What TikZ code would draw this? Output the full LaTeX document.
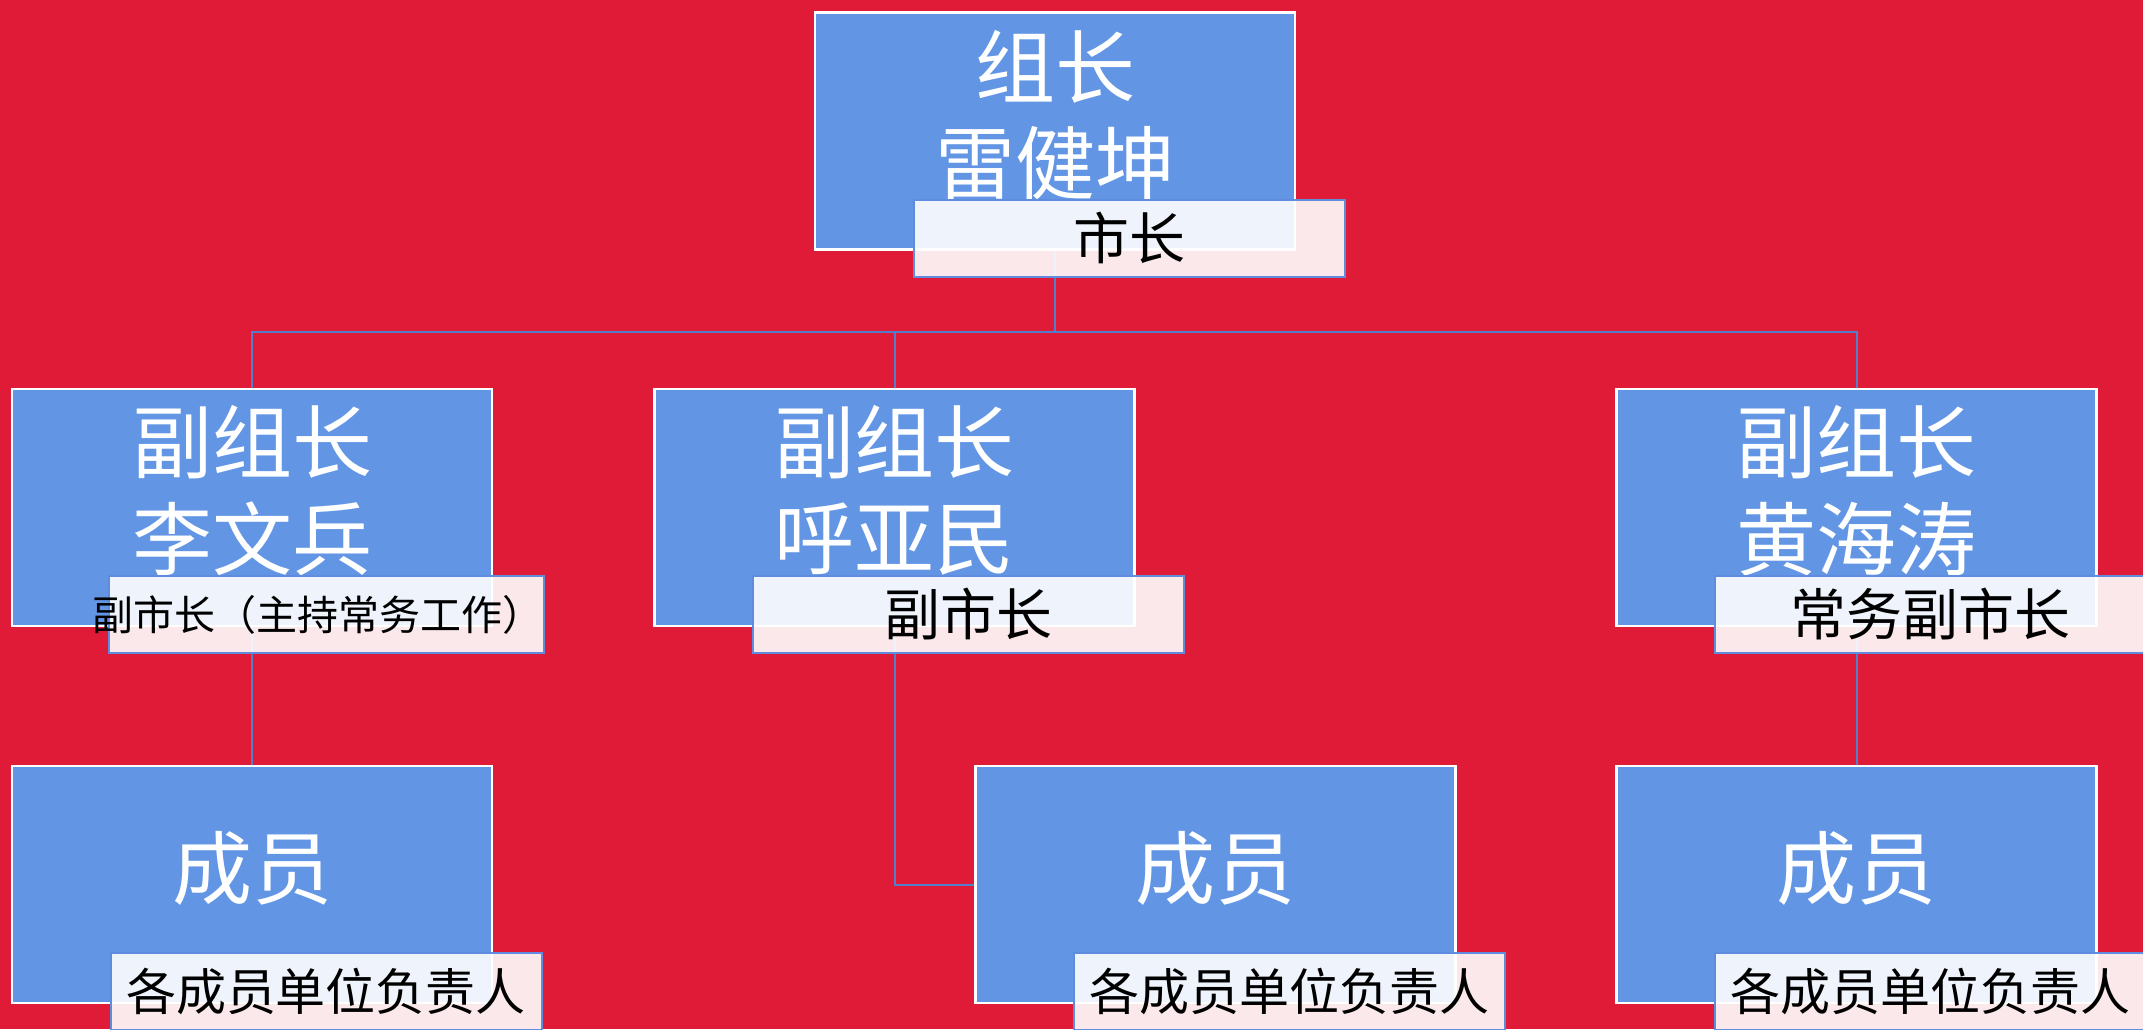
\documentclass[tikz,border=0pt]{standalone}
\usepackage{fontspec}
\setmainfont{Noto Sans CJK SC}
\definecolor{bgred}{RGB}{223,27,55}
\definecolor{boxblue}{RGB}{98,150,229}
\definecolor{lblblue}{RGB}{95,140,222}
\definecolor{connblue}{RGB}{85,125,205}
\pgfdeclarelayer{bg}
\pgfsetlayers{bg,main}
\begin{document}
\begin{tikzpicture}[x=0.5pt,y=-0.5pt,
  orgbox/.style={draw=white,line width=1.3pt,fill=boxblue,minimum width=240pt,minimum height=118.5pt,inner sep=0pt,outer sep=0pt},
  bigtext/.style={text=white,font=\fontsize{40pt}{48pt}\selectfont,inner sep=0pt},
  tag/.style={draw=lblblue,line width=1pt,fill=white,fill opacity=0.9,text opacity=1,text=black,minimum width=215.5pt,minimum height=38.5pt,inner sep=0pt,outer sep=0pt,font=\fontsize{28pt}{32pt}\selectfont},
  smalltag/.style={tag,font=\fontsize{25pt}{30pt}\selectfont},
  conn/.style={draw=connblue,line width=1pt}]
\useasboundingbox (0,0) rectangle (2143,1029);
\begin{pgfonlayer}{bg}
\fill[bgred] (0,0) rectangle (2143,1029);
\end{pgfonlayer}

% boxes
\node[orgbox] (top) at (1055,131) {};
\node[orgbox] (L) at (252,507.5) {};
\node[orgbox] (C) at (894.5,507.5) {};
\node[orgbox] (R) at (1856.5,507.5) {};
\node[orgbox] (BL) at (252,884.5) {};
\node[orgbox] (BC) at (1215.5,884.5) {};
\node[orgbox] (BR) at (1856.5,884.5) {};

% box texts
\node[bigtext] (t1a) at (1055,66.5) {组长};
\node[bigtext] (t1b) at (1055,163) {雷健坤};
\node[bigtext] (tLa) at (252,442.5) {副组长};
\node[bigtext] (tLb) at (252,539) {李文兵};
\node[bigtext] (tCa) at (894.5,442.5) {副组长};
\node[bigtext] (tCb) at (894.5,539) {呼亚民};
\node[bigtext] (tRa) at (1856.5,442.5) {副组长};
\node[bigtext] (tRb) at (1856.5,539) {黄海涛};
\node[bigtext] (tBL) at (252,868) {成员};
\node[bigtext] (tBC) at (1215.5,868) {成员};
\node[bigtext] (tBR) at (1856.5,868) {成员};

% labels
\node[tag] (topT) at (1129,238) {市长};
\node[tag,font=\fontsize{20.5pt}{24pt}\selectfont] (LT) at (326,614.5) {\kern-8pt 副市长（主持常务工作）};
\node[tag] (CT) at (968.5,614.5) {副市长};
\node[tag] (RT) at (1930.5,614.5) {常务副市长};
\node[smalltag] (BLT) at (326,991.5) {各成员单位负责人};
\node[smalltag] (BCT) at (1289.5,991.5) {各成员单位负责人};
\node[smalltag] (BRT) at (1930.5,991.5) {各成员单位负责人};

% connectors
\begin{pgfonlayer}{bg}
\coordinate (bus) at (1055,332);
\draw[conn] (top.south) -- (bus);
\draw[conn] (bus) -| (L.north);
\draw[conn] (bus) -| (C.north);
\draw[conn] (bus) -| (R.north);
\draw[conn] (L.south) -- (BL.north);
\draw[conn] (C.south) |- (BC.west);
\draw[conn] (R.south) -- (BR.north);
\end{pgfonlayer}
\end{tikzpicture}
\end{document}
